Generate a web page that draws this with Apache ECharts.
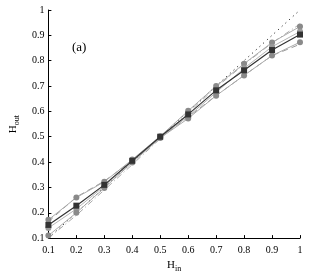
<!DOCTYPE html>
<html><head><meta charset="utf-8">
<script src="https://cdn.jsdelivr.net/npm/echarts@6/dist/echarts.min.js"></script>
<style>html,body{margin:0;padding:0;background:#fff}#c{width:316px;height:278px}</style>
</head><body><div id="c"></div>
<script>
const xs = [0.1,0.2,0.3,0.4,0.5,0.6,0.7,0.8,0.9,1.0];
const idealVals = [0.1,0.2,0.3,0.4,0.5,0.6,0.7,0.8,0.9,1.0];
const meanVals = [0.152,0.228,0.31,0.405,0.5,0.588,0.683,0.762,0.842,0.903];
const upperVals = [0.172,0.26,0.322,0.41,0.502,0.602,0.700,0.788,0.872,0.935];
const midVals = [0.14,0.215,0.305,0.403,0.498,0.58,0.675,0.77,0.855,0.915];
const lowerVals = [0.11,0.2,0.298,0.398,0.495,0.572,0.662,0.742,0.82,0.873];
const dashedVals = [0.165,0.262,0.325,0.405,0.495,0.578,0.662,0.742,0.82,0.865];
const dashDotVals = [0.1,0.19,0.29,0.39,0.492,0.595,0.695,0.785,0.87,0.945];
const tickLabels = ['0.1','0.2','0.3','0.4','0.5','0.6','0.7','0.8','0.9','1'];

const pairs = v => xs.map((x,i)=>[x,v[i]]);
const font = 'Liberation Serif';
const labelFmt = v => { const i = Math.round(v*10)-1; return tickLabels[i] || ''; };

const chart = echarts.init(document.getElementById('c'));
const axisCommon = {
  type:'value', min:0.1, max:1, interval:0.1,
  axisLine:{show:true, lineStyle:{color:'#000', width:1}},
  axisTick:{show:true, inside:true, length:3, lineStyle:{color:'#000'}},
  splitLine:{show:false},
  axisLabel:{color:'#000', fontFamily:font, fontSize:10, formatter:labelFmt}
};
chart.setOption({
  animation:false,
  grid:{left:40, right:16, top:10, bottom:34},
  xAxis:Object.assign({}, axisCommon, {
    name:'{m|H}{s|in}', nameLocation:'middle', nameGap:19,
    nameTextStyle:{rich:{m:{fontFamily:font,fontSize:11,color:'#000'},s:{fontFamily:font,fontSize:8,color:'#000',padding:[7,0,0,0]}}},
    axisLabel:Object.assign({}, axisCommon.axisLabel, {margin:7})
  }),
  yAxis:Object.assign({}, axisCommon, {
    name:'{m|H}{s|out}', nameLocation:'middle', nameGap:24,
    nameTextStyle:{rich:{m:{fontFamily:font,fontSize:11,color:'#000'},s:{fontFamily:font,fontSize:8,color:'#000',padding:[7,0,0,0]}}},
    axisLabel:Object.assign({}, axisCommon.axisLabel, {margin:4})
  }),
  graphic:[{type:'text', left:72, top:41, style:{text:'(a)', font:'13px "Liberation Serif"', fill:'#000'}}],
  series:[
    {type:'line', data:pairs(idealVals), symbol:'none', lineStyle:{color:'#000', width:1, type:[1,4]}, z:1},
    {type:'line', data:pairs(dashDotVals), symbol:'none', lineStyle:{color:'#aaa', width:1, type:[6,3,1,3]}, z:1},
    {type:'line', data:pairs(dashedVals), symbol:'none', lineStyle:{color:'#999', width:1, type:[6,4]}, z:1},
    {type:'line', data:pairs(upperVals), symbol:'circle', symbolSize:6, itemStyle:{color:'#8a8a8a'}, lineStyle:{color:'#aaa', width:1}, z:2},
    {type:'line', data:pairs(midVals), symbol:'circle', symbolSize:6, itemStyle:{color:'#999'}, lineStyle:{color:'#b5b5b5', width:1}, z:2},
    {type:'line', data:pairs(lowerVals), symbol:'circle', symbolSize:6, itemStyle:{color:'#8a8a8a'}, lineStyle:{color:'#aaa', width:1}, z:2},
    {type:'line', data:pairs(meanVals), symbol:'rect', symbolSize:6, itemStyle:{color:'#333'}, lineStyle:{color:'#333', width:1.2}, z:3}
  ]
});
</script></body></html>
